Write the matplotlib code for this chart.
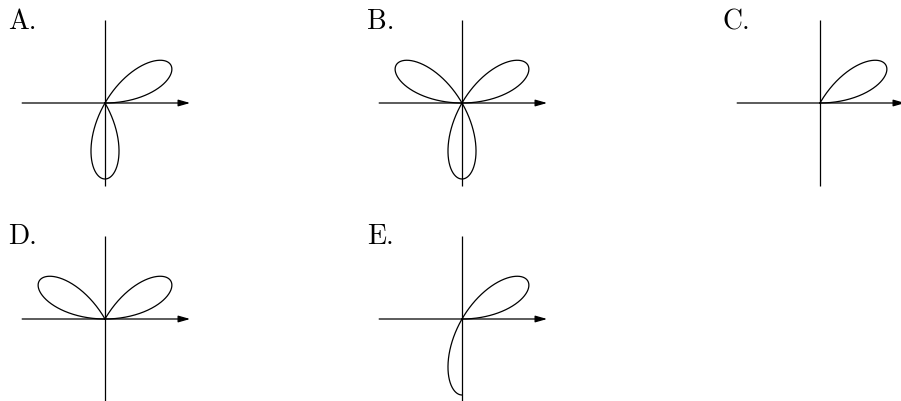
import numpy as np
import matplotlib
matplotlib.use("Agg")
import matplotlib.pyplot as plt

# ---- data ----
panel_labels = ["A.", "B.", "C.", "D.", "E."]
rose_k = 3  # r = sin(3*theta)
# theta intervals (in multiples of pi/3) traced in each panel
theta_segments_A = [(0, 2)]
theta_segments_B = [(0, 3)]
theta_segments_C = [(0, 1)]
theta_segments_D = [(0, 1), (2, 3)]
theta_segments_E = [(0, 1.5)]
theta_segments = [theta_segments_A, theta_segments_B, theta_segments_C,
                  theta_segments_D, theta_segments_E]

# ---- layout (pixels) ----
W, H = 901, 401
origins = [(105, 103), (462, 103), (820, 103), (105, 319), (462, 319)]
label_pos = [(8, 29), (367, 29), (722, 29), (8, 244), (367, 244)]
R = 76.0       # pixels per unit radius
L = 1.25       # half-extent of each axes in data units

fig = plt.figure(figsize=(W / 100, H / 100), dpi=100)
fig.patch.set_facecolor("white")

for lab, segs, (ox, oy), (lx, ly) in zip(panel_labels, theta_segments, origins, label_pos):
    size = 2 * L * R
    ax = fig.add_axes([(ox - L * R) / W, (H - oy - L * R) / H, size / W, size / H])
    ax.set_xlim(-L, L)
    ax.set_ylim(-L, L)
    ax.set_aspect("equal")
    ax.axis("off")
    # coordinate axes
    ax.plot([0, 0], [-1.09, 1.09], color="black", lw=0.9, solid_capstyle="butt")
    ax.annotate("", xy=(1.12, 0), xytext=(-1.09, 0),
                arrowprops=dict(arrowstyle="-|>,head_length=0.7,head_width=0.2",
                                color="black", lw=0.9, shrinkA=0, shrinkB=0,
                                mutation_scale=10))
    # rose curve segments
    for a, b in segs:
        th = np.linspace(a * np.pi / 3, b * np.pi / 3, 600)
        r = np.sin(rose_k * th)
        ax.plot(r * np.cos(th), r * np.sin(th), color="black", lw=0.9)
    fig.text(lx / W, 1 - ly / H, lab, fontfamily="cmr10", fontsize=20,
             ha="left", va="baseline", color="black")

fig.savefig("out.png", dpi=100, facecolor="white")
